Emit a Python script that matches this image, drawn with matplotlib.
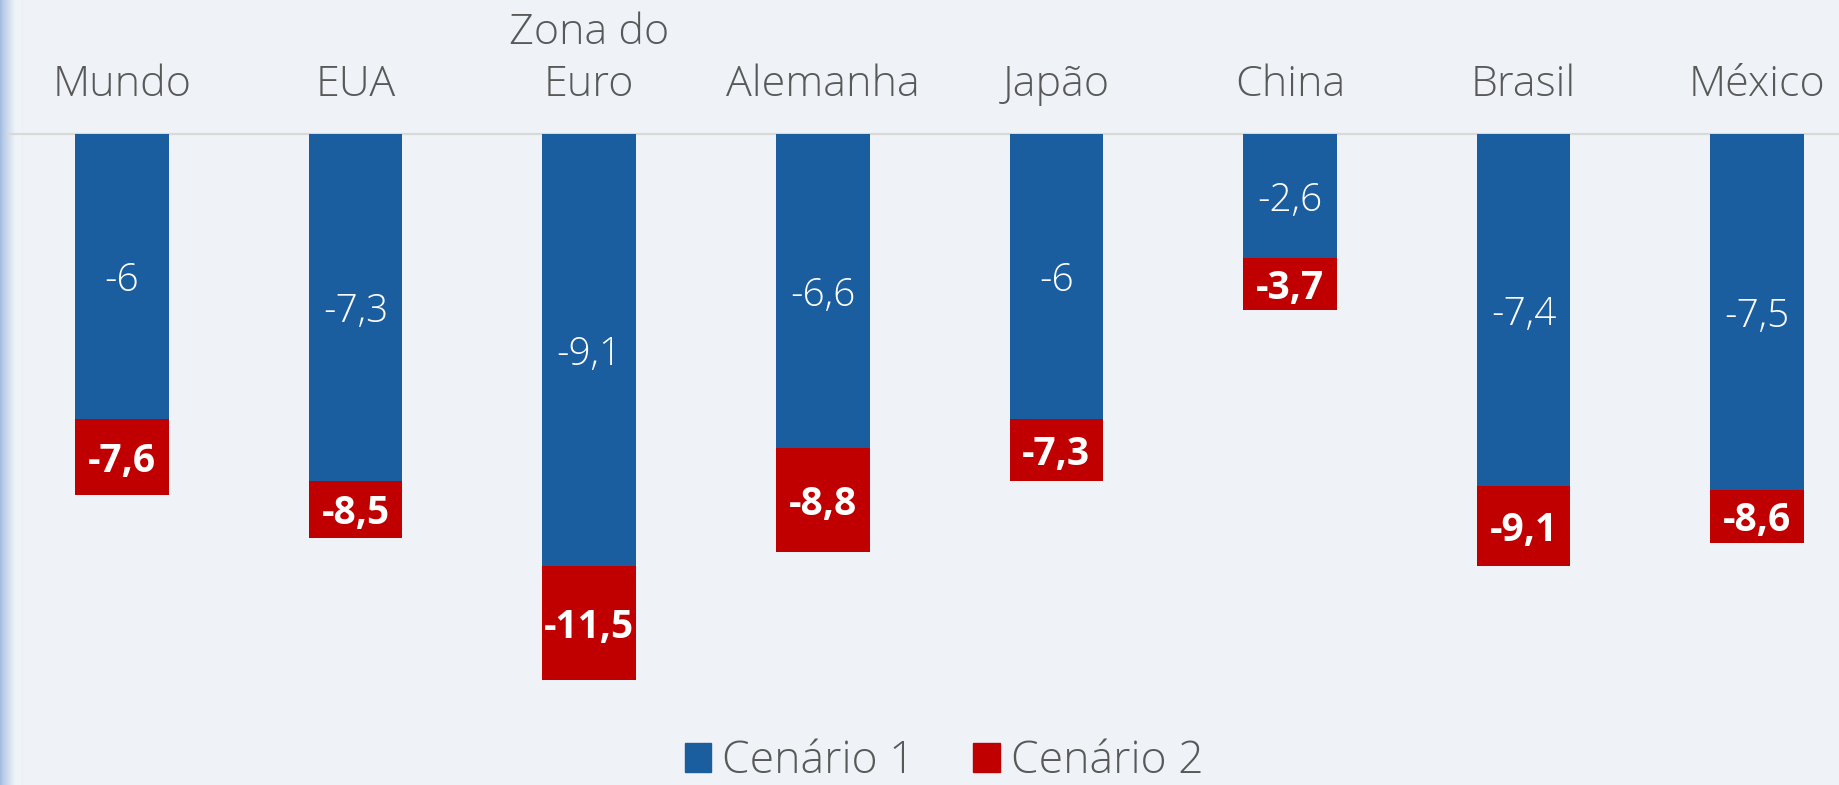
import matplotlib
matplotlib.use("Agg")
import matplotlib.pyplot as plt
from matplotlib.patches import Patch
import numpy as np

plt.rcParams['font.family'] = ['Open Sans', 'DejaVu Sans']

categories = ["Mundo", "EUA", "Zona do\nEuro", "Alemanha", "Japão", "China", "Brasil", "México"]
cenario1 = [-6.0, -7.3, -9.1, -6.6, -6.0, -2.6, -7.4, -7.5]
cenario2 = [-7.6, -8.5, -11.5, -8.8, -7.3, -3.7, -9.1, -8.6]
series_names = ["Cenário 1", "Cenário 2"]

BLUE = "#1A5E9F"
RED = "#C00000"
BG = "#EFF3F7"
TXT = "#595959"

W, H = 1839, 785
fig = plt.figure(figsize=(W / 100, H / 100), dpi=100, facecolor=BG)

# left decorative gradient stripe
sax = fig.add_axes([0, 0, 26 / W, 1])
grad = np.linspace(0, 1, 26)
c0 = np.array([0.64, 0.74, 0.89])
c1 = np.array([0xEF, 0xF3, 0xF7]) / 255
alpha = np.clip(grad / 0.6, 0, 1) ** 0.8
img = (c0[None, :] * (1 - alpha[:, None]) + c1[None, :] * alpha[:, None])
img[22] = img[22] * 0.985
sax.imshow(img[None, :, :], aspect='auto', extent=[0, 1, 0, 1])
sax.axis('off')

left_px, right_px = 7, W
top_px, bot_px = 134, 700
ax = fig.add_axes([left_px / W, 1 - bot_px / H, (right_px - left_px) / W, (bot_px - top_px) / H])
ax.set_facecolor('none')

step = 233.6
x0 = 122
x = np.arange(len(categories))
ax.set_xlim((left_px - x0) / step, (right_px - x0) / step)
ax.set_ylim(-(bot_px - top_px) / 47.5, 0)

width = 0.40
ax.bar(x, cenario2, width=width, color=RED, zorder=2)
ax.bar(x, cenario1, width=width, color=BLUE, zorder=3)

for xi, v1, v2 in zip(x, cenario1, cenario2):
    ax.text(xi, v1 / 2, f"{v1:g}".replace('.', ','), ha='center', va='center_baseline',
            color='white', fontsize=28, fontweight='light', zorder=4)
    ax.text(xi, (v1 + v2) / 2, f"{v2:g}".replace('.', ','), ha='center', va='center_baseline',
            color='white', fontsize=28, fontweight='bold', zorder=4)

ax.xaxis.tick_top()
ax.set_xticks(x)
ax.set_xticklabels(categories, fontsize=31, color=TXT, linespacing=1.3, fontweight='light')
ax.tick_params(axis='x', length=0, pad=20)
ax.set_yticks([])
for s in ['left', 'right', 'bottom']:
    ax.spines[s].set_visible(False)
ax.spines['top'].set_color('#D9D9D9')
ax.spines['top'].set_linewidth(1.6)

handles = [Patch(color=BLUE), Patch(color=RED)]
fig.legend(handles, series_names, loc='lower center', bbox_to_anchor=(944 / W, -0.05),
           ncol=2, frameon=False, prop={'size': 32, 'weight': 'light'},
           handlelength=0.6, handleheight=0.6,
           handletextpad=0.25, columnspacing=1.3, labelcolor=TXT)

fig.savefig("out.png", dpi=100, facecolor=BG)
